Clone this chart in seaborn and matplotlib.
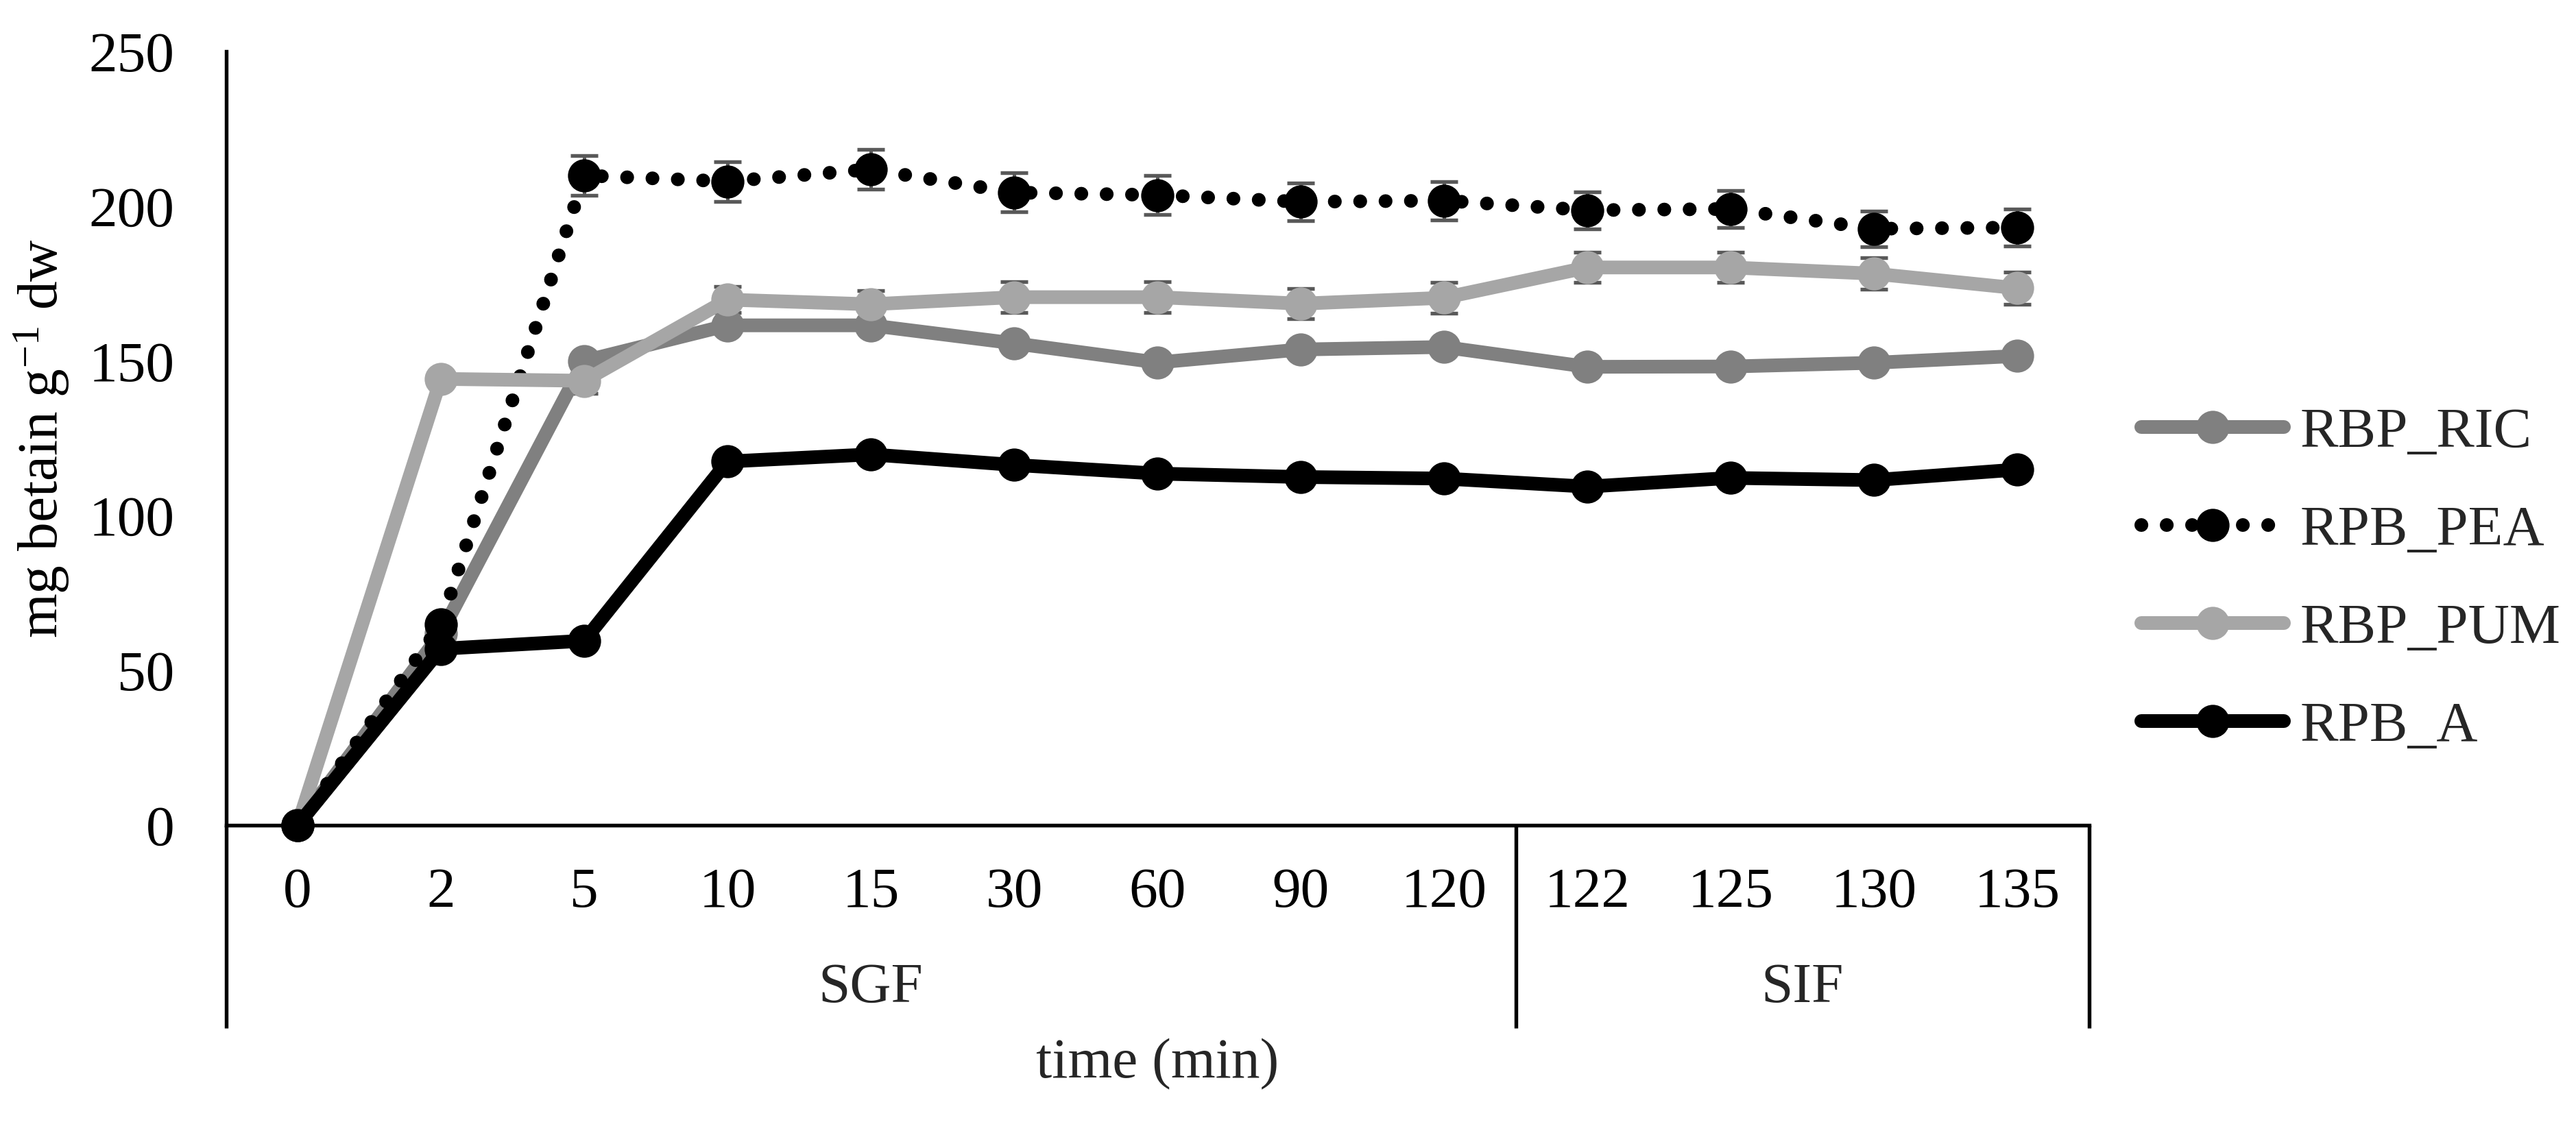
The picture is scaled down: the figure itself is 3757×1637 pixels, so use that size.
import numpy as np
import pandas as pd
import seaborn as sns
import matplotlib.pyplot as plt

# --- data ---
TIME_LABELS = ['0', '2', '5', '10', '15', '30', '60', '90', '120', '122', '125', '130', '135']
PHASES = ['SGF', 'SIF']
PHASE_SIZES = [9, 4]

rbp_ric = [0, 62, 150.0, 161.5, 161.5, 155.7, 149.5, 153.7, 154.5, 148.1, 148.2, 149.4, 151.6]
rpb_pea = [0, 64.8, 209.9, 208.0, 211.9, 204.4, 203.6, 201.4, 201.8, 198.7, 199.1, 192.7, 193.1]
rbp_pum = [0, 144.2, 143.6, 169.8, 168.3, 170.6, 170.6, 168.5, 170.4, 180.2, 180.2, 178.2, 173.5]
rpb_a = [0, 57.0, 59.6, 117.5, 119.8, 116.4, 113.6, 112.5, 112.0, 109.4, 112.2, 111.5, 114.9]

# standard deviations (only visible for PEA and PUM)
rpb_pea_sd = [0, 0, 6.4, 6.4, 6.4, 6.3, 6.4, 6.0, 6.2, 6.0, 6.0, 5.8, 6.0]
rbp_pum_sd = [0, 0, 4.2, 4.2, 4.5, 5.0, 5.0, 4.9, 4.9, 4.9, 4.9, 5.1, 5.1]

SERIES = ['RBP_RIC', 'RPB_PEA', 'RBP_PUM', 'RPB_A']
VALUES = [rbp_ric, rpb_pea, rbp_pum, rpb_a]
COLORS = ['#808080', '#000000', '#a6a6a6', '#000000']
DOTTED = (0, (0.01, 1.84))
STYLES = ['-', DOTTED, '-', '-']

# --- style ---
sns.set_theme(style='white')
plt.rcParams['font.family'] = ['Liberation Serif', 'DejaVu Serif']
plt.rcParams['mathtext.fontset'] = 'custom'
plt.rcParams['mathtext.rm'] = 'Liberation Serif'
plt.rcParams['mathtext.it'] = 'Liberation Serif'
FS = 20
LW = 4.8
MS = 11.6

W, H, DPI = 3757, 1637, 300
fig = plt.figure(figsize=(W / DPI, H / DPI), dpi=DPI)
ax_left, ax_right, ax_top, ax_bottom = 329.5, 3046.5, 75, 1204
ax = fig.add_axes([ax_left / W, 1 - ax_bottom / H,
                   (ax_right - ax_left) / W, (ax_bottom - ax_top) / H])

positions = np.arange(len(TIME_LABELS))

# error bars under the lines (capsize is half the cap length)
for vals, sd in [(rpb_pea, rpb_pea_sd), (rbp_pum, rbp_pum_sd)]:
    ax.errorbar(positions, vals, yerr=sd, fmt='none', ecolor='#595959',
                elinewidth=1.2, capsize=4.9, capthick=1.3, zorder=1.5, clip_on=False)

for name, vals, col, ls in zip(SERIES, VALUES, COLORS, STYLES):
    df = pd.DataFrame({'pos': positions, 'val': vals})
    sns.lineplot(data=df, x='pos', y='val', ax=ax, color=col, linestyle=ls,
                 linewidth=LW, marker='o', markersize=MS, markeredgewidth=0,
                 markeredgecolor=col, solid_capstyle='round', dash_capstyle='round',
                 errorbar=None, label=name, clip_on=False)

ax.set_xlim(-0.5, len(TIME_LABELS) - 0.5)
ax.set_ylim(0, 250)
ax.set_yticks(np.arange(0, 251, 50))
ax.set_xticks(positions)
ax.set_xticklabels(TIME_LABELS)
ax.tick_params(axis='x', length=0, pad=14.8, labelsize=FS, colors='black')
ax.tick_params(axis='y', length=0, pad=18, labelsize=FS, colors='black')
ax.set_xlabel('')
ax.set_ylabel('mg betain g$^{-1}$ dw', fontsize=FS, labelpad=6, color='black')

for side in ['top', 'right']:
    ax.spines[side].set_visible(False)
for side in ['left', 'bottom']:
    ax.spines[side].set_color('black')
    ax.spines[side].set_linewidth(1.3)

# multi-level category axis: group separators and group labels
sep_bottom = -(1500 - ax_bottom) / (ax_bottom - ax_top)
trans = ax.get_xaxis_transform()
edges = [-0.5]
for n in PHASE_SIZES:
    edges.append(edges[-1] + n)
for e in edges:
    ax.plot([e, e], [0, sep_bottom], color='black', lw=1.3, transform=trans,
            clip_on=False, solid_capstyle='butt')
group_y = -(1462 - ax_bottom) / (ax_bottom - ax_top)
for name, lo, hi in zip(PHASES, edges[:-1], edges[1:]):
    ax.text((lo + hi) / 2, group_y, name, transform=trans, ha='center',
            va='baseline', fontsize=FS)
xlabel_y = -(1572 - ax_bottom) / (ax_bottom - ax_top)
ax.text((edges[0] + edges[-1]) / 2, xlabel_y, 'time (min)', transform=trans,
        ha='center', va='baseline', fontsize=FS)

ax.legend(loc='center left', bbox_to_anchor=(3123 / W, 1 - 846.5 / H),
          bbox_transform=fig.transFigure, frameon=False, fontsize=FS,
          handlelength=2.5, handletextpad=0.28, labelspacing=0.8,
          borderpad=0, borderaxespad=0)

fig.savefig('out.png', dpi=DPI)
